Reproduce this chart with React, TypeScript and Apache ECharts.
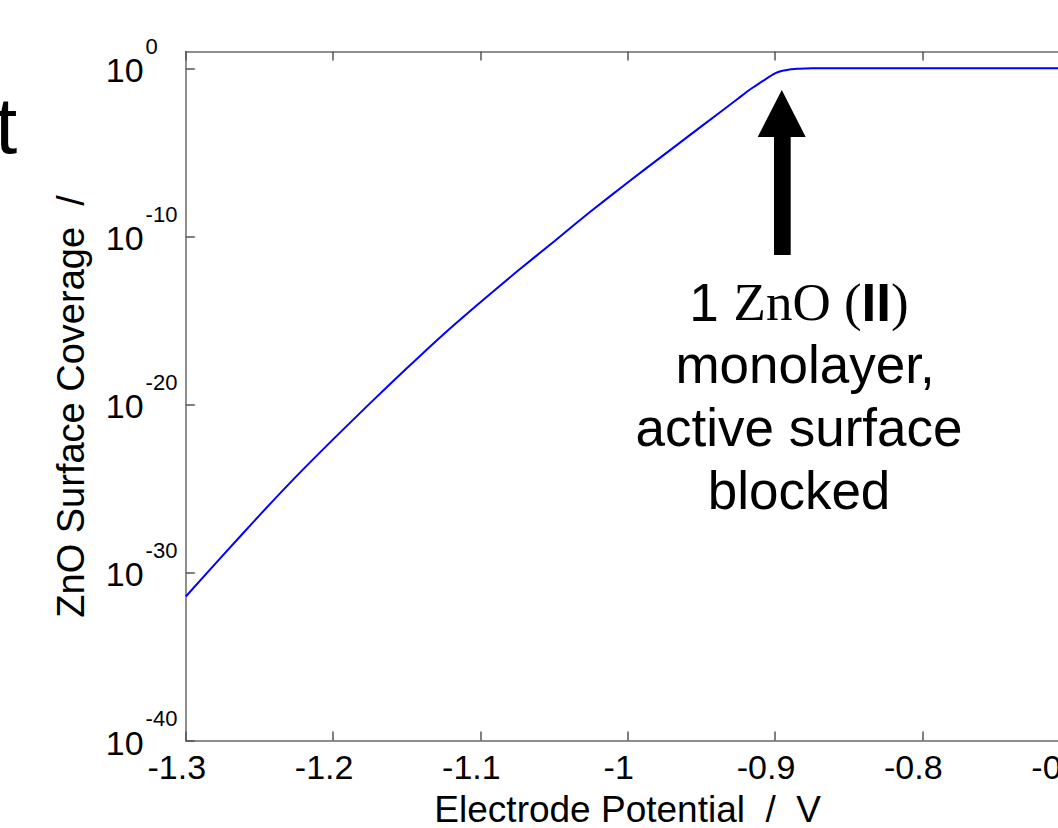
import { useEffect, useRef } from "react";
import * as echarts from "echarts";

// Electrode potential (V) and ZnO surface coverage along the simulated curve
const potential = [
  -1.3, -1.275, -1.25, -1.225, -1.2, -1.175, -1.15, -1.125, -1.1, -1.075, -1.05,
  -1.025, -1.0, -0.975, -0.95, -0.925, -0.92, -0.915, -0.91, -0.905, -0.9, -0.895,
  -0.89, -0.885, -0.88, -0.875, -0.8, -0.7,
];
const coverage = [
  3.7e-32, 1.0e-29, 2.5e-27, 5.2e-25, 8.3e-23, 1.15e-20, 1.4e-18, 1.5e-16, 1.2e-14,
  8.3e-13, 5.0e-11, 3.1e-9, 1.6e-7, 7.6e-6, 3.5e-4, 1.6e-2, 3.5e-2, 7.2e-2, 0.14,
  0.27, 0.5, 0.71, 0.86, 0.93, 0.97, 1, 1, 1,
];

const xMin = -1.3;
const xMax = -0.7;
const xStep = 0.1;
const yMin = 1e-40;
const yMax = 10;
const yTickValues = [1e-40, 1e-30, 1e-20, 1e-10, 1];

const annotationLines = ["monolayer,", "active surface", "blocked"];

const SANS = "'Liberation Sans', Arial, Helvetica, sans-serif";
const SERIF = "'Liberation Serif', 'DejaVu Serif', serif";

export default function App() {
  const ref = useRef<HTMLDivElement>(null);

  useEffect(() => {
    if (!ref.current) return;
    const chart = echarts.init(ref.current, null, { renderer: "svg" });

    const axisLine = { onZero: false, lineStyle: { color: "#6a6a6a", width: 1.5 } };
    const axisTick = { inside: true, length: 9, lineStyle: { color: "#555", width: 1.5 } };

    chart.setOption({
      animation: false,
      backgroundColor: "#ffffff",
      grid: {
        left: 185.8,
        top: 51.5,
        right: 30.4,
        bottom: 87.5,
        containLabel: false,
        outerBoundsMode: "none",
      },
      xAxis: [
        {
          type: "value",
          position: "bottom",
          min: xMin,
          max: xMax,
          interval: xStep,
          name: "Electrode Potential  /  V",
          nameLocation: "middle",
          nameGap: 50,
          nameMoveOverlap: false,
          nameTextStyle: { fontSize: 37, color: "#000", fontFamily: SANS },
          axisLine,
          axisTick,
          splitLine: { show: false },
          axisLabel: {
            fontSize: 34,
            color: "#000",
            fontFamily: SANS,
            margin: 9,
            padding: [0, 18, 0, 0],
            showMinLabel: true,
            showMaxLabel: true,
            hideOverlap: false,
            formatter: (v: number) => String(+v.toFixed(1)),
          },
        },
        {
          type: "value",
          position: "top",
          min: xMin,
          max: xMax,
          interval: xStep,
          axisLine,
          axisTick,
          splitLine: { show: false },
          axisLabel: { show: false },
        },
      ],
      yAxis: [
        {
          type: "log",
          logBase: 10,
          min: yMin,
          max: yMax,
          position: "left",
          name: "ZnO Surface Coverage  /",
          nameLocation: "middle",
          nameGap: 96,
          nameRotate: 90,
          nameMoveOverlap: false,
          nameTextStyle: {
            fontSize: 38,
            color: "#000",
            fontFamily: SANS,
            padding: [0, 21, 0, 0],
          },
          axisLine,
          axisTick: { ...axisTick, customValues: yTickValues },
          splitLine: { show: false },
          minorTick: { show: false },
          axisLabel: {
            customValues: yTickValues,
            align: "left",
            margin: 80,
            showMinLabel: true,
            showMaxLabel: true,
            hideOverlap: false,
            padding: [32, 0, 0, 0],
            formatter: (v: number) => {
              const e = Math.round(Math.log10(v));
              return `{b|10}{e|${e}}`;
            },
            rich: {
              b: {
                fontSize: 34,
                lineHeight: 34,
                fontFamily: SANS,
                color: "#000",
                verticalAlign: "bottom",
                padding: [0, 0, 14, 0],
              },
              e: {
                fontSize: 22,
                lineHeight: 22,
                fontFamily: SANS,
                color: "#000",
                verticalAlign: "bottom",
                padding: [0, 0, 44, 2],
              },
            },
          },
        },
      ],
      series: [
        {
          type: "line",
          xAxisIndex: 0,
          yAxisIndex: 0,
          data: potential.map((p, i) => [p, coverage[i]]),
          symbol: "none",
          smooth: 0.2,
          lineStyle: { color: "#0000ff", width: 2 },
        },
      ],
      graphic: [
        // edge of the slide title
        {
          type: "text",
          x: -5,
          y: 125,
          style: {
            text: "t",
            fill: "#000",
            fontSize: 80,
            fontFamily: SANS,
            align: "left",
            verticalAlign: "middle",
          },
        },
        // arrow pointing at the knee of the curve
        {
          type: "polygon",
          shape: {
            points: [
              [781.8, 90],
              [805.7, 137],
              [790.7, 137],
              [790.7, 255],
              [774, 255],
              [774, 137],
              [757.7, 137],
            ],
          },
          style: { fill: "#000" },
        },
        {
          type: "text",
          x: 799,
          y: 302,
          style: {
            text: "{n|1 }{s|ZnO}{p| (}{k|II}{p|)}",
            align: "center",
            verticalAlign: "middle",
            rich: {
              n: { fontSize: 53, fontFamily: SANS, fill: "#000" },
              s: { fontSize: 53, fontFamily: SERIF, fill: "#000" },
              p: { fontSize: 53, fontFamily: SERIF, fill: "#000" },
              k: { fontSize: 53, fontFamily: SANS, fontWeight: "bold", fill: "#000" },
            },
          },
        },
        ...annotationLines.map((t, i) => ({
          type: "text",
          x: i === 0 ? 805 : 799,
          y: 364 + i * 63,
          style: {
            text: t,
            fill: "#000",
            fontSize: 53,
            fontFamily: SANS,
            align: "center",
            verticalAlign: "middle",
          },
        })),
      ],
    });

    return () => chart.dispose();
  }, []);

  return (
    <div
      style={{
        position: "absolute",
        left: 0,
        top: 0,
        width: 1058,
        height: 828,
        overflow: "hidden",
        background: "#fff",
      }}
    >
      <div ref={ref} style={{ width: 1100, height: 828 }} />
    </div>
  );
}
